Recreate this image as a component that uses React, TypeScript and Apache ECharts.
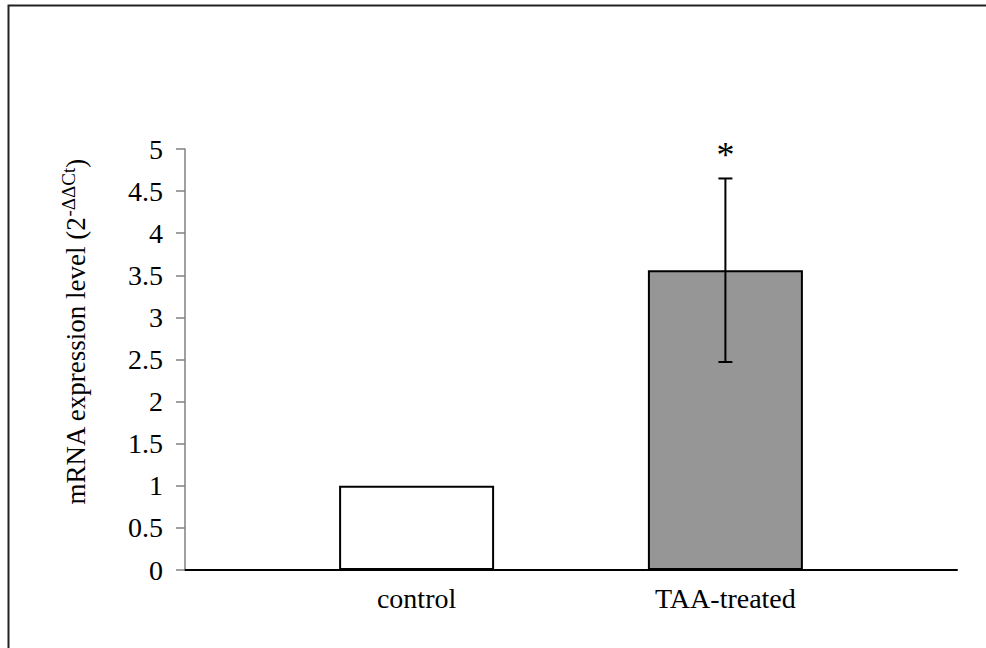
import React, { useEffect, useRef } from "react";
import * as echarts from "echarts";

const categories = ["control", "TAA-treated"];
const means = [1, 3.56];
const errors = [0, 1.09];
const significance = ["", "*"];
const yTicks = { min: 0, max: 5, interval: 0.5 };

const FONT = "Liberation Serif";

export default function App() {
  const ref = useRef<HTMLDivElement>(null);
  useEffect(() => {
    if (!ref.current) return;
    const chart = echarts.init(ref.current, undefined, { renderer: "svg" });
    const barData = categories.map((c, i) => [i, means[i]]);
    const errData = categories.map((c, i) => [i, means[i] - errors[i], means[i] + errors[i]]);
    chart.setOption({
      animation: false,
      backgroundColor: "#ffffff",
      graphic: [
        {
          type: "rect",
          shape: { x: 8.5, y: 5.5, width: 1200, height: 900 },
          style: { fill: "none", stroke: "#222", lineWidth: 2 },
          silent: true,
        },
      ],
      grid: { left: 185, right: 29, top: 149, bottom: 78 },
      xAxis: {
        type: "value",
        min: -0.75,
        max: 1.75,
        interval: 0.25,
        splitLine: { show: false },
        axisTick: { show: false },
        axisLine: { show: true, onZero: false, lineStyle: { color: "#000", width: 2 } },
        axisLabel: {
          margin: 14,
          fontFamily: FONT,
          fontSize: 28,
          color: "#000",
          showMinLabel: true,
          showMaxLabel: true,
          formatter: (v: number) => {
            const r = Math.round(v);
            if (Math.abs(v - r) < 1e-6 && r >= 0 && r < categories.length) return categories[r];
            return "";
          },
        },
      },
      yAxis: {
        type: "value",
        min: yTicks.min,
        max: yTicks.max,
        interval: yTicks.interval,
        splitLine: { show: false },
        axisLine: { show: true, onZero: false, lineStyle: { color: "#808080", width: 1.5 } },
        axisTick: { show: true, length: 9, lineStyle: { color: "#808080", width: 1.5 } },
        axisLabel: { margin: 22, fontFamily: FONT, fontSize: 28, color: "#000" },
        name: "{a|mRNA expression level (2}{s|-ΔΔCt}{a|)}",
        nameLocation: "middle",
        nameGap: 92,
        nameRotate: 90,
        nameTextStyle: {
          fontFamily: FONT,
          fontSize: 27,
          color: "#000",
          padding: [0, 0, 0, 55],
          rich: {
            a: { fontFamily: FONT, fontSize: 27, color: "#000", lineHeight: 34 },
            s: { fontFamily: FONT, fontSize: 19, color: "#000", verticalAlign: "top", lineHeight: 34 },
          },
        },
      },
      series: [
        {
          type: "bar",
          data: barData,
          barWidth: 155,
          itemStyle: {
            color: (p: any) => (p.dataIndex === 0 ? "#ffffff" : "#969696"),
            borderColor: "#000",
            borderWidth: 2,
          },
          z: 2,
        },
        {
          type: "custom",
          data: errData,
          z: 5,
          renderItem: (params: any, api: any) => {
            const x = api.value(0);
            const lo = api.coord([x, api.value(1)]);
            const hi = api.coord([x, api.value(2)]);
            const children: any[] = [];
            const cap = 7;
            const ls = { stroke: "#000", lineWidth: 2 };
            if (errors[params.dataIndex] > 0) {
              children.push(
                { type: "line", shape: { x1: lo[0], y1: lo[1], x2: hi[0], y2: hi[1] }, style: ls },
                { type: "line", shape: { x1: hi[0] - cap, y1: hi[1], x2: hi[0] + cap, y2: hi[1] }, style: ls },
                { type: "line", shape: { x1: lo[0] - cap, y1: lo[1], x2: lo[0] + cap, y2: lo[1] }, style: ls }
              );
            }
            const sig = significance[params.dataIndex];
            if (sig) {
              children.push({
                type: "text",
                style: {
                  text: sig,
                  x: hi[0],
                  y: hi[1] - 5,
                  textAlign: "center",
                  textVerticalAlign: "bottom",
                  fontFamily: FONT,
                  fontSize: 36,
                  fill: "#000",
                },
              });
            }
            return { type: "group", children };
          },
        },
      ],
    });
    return () => chart.dispose();
  }, []);
  return (
    <div
      ref={ref}
      style={{ position: "fixed", left: 0, top: 0, width: 986, height: 648, background: "#fff" }}
    />
  );
}
